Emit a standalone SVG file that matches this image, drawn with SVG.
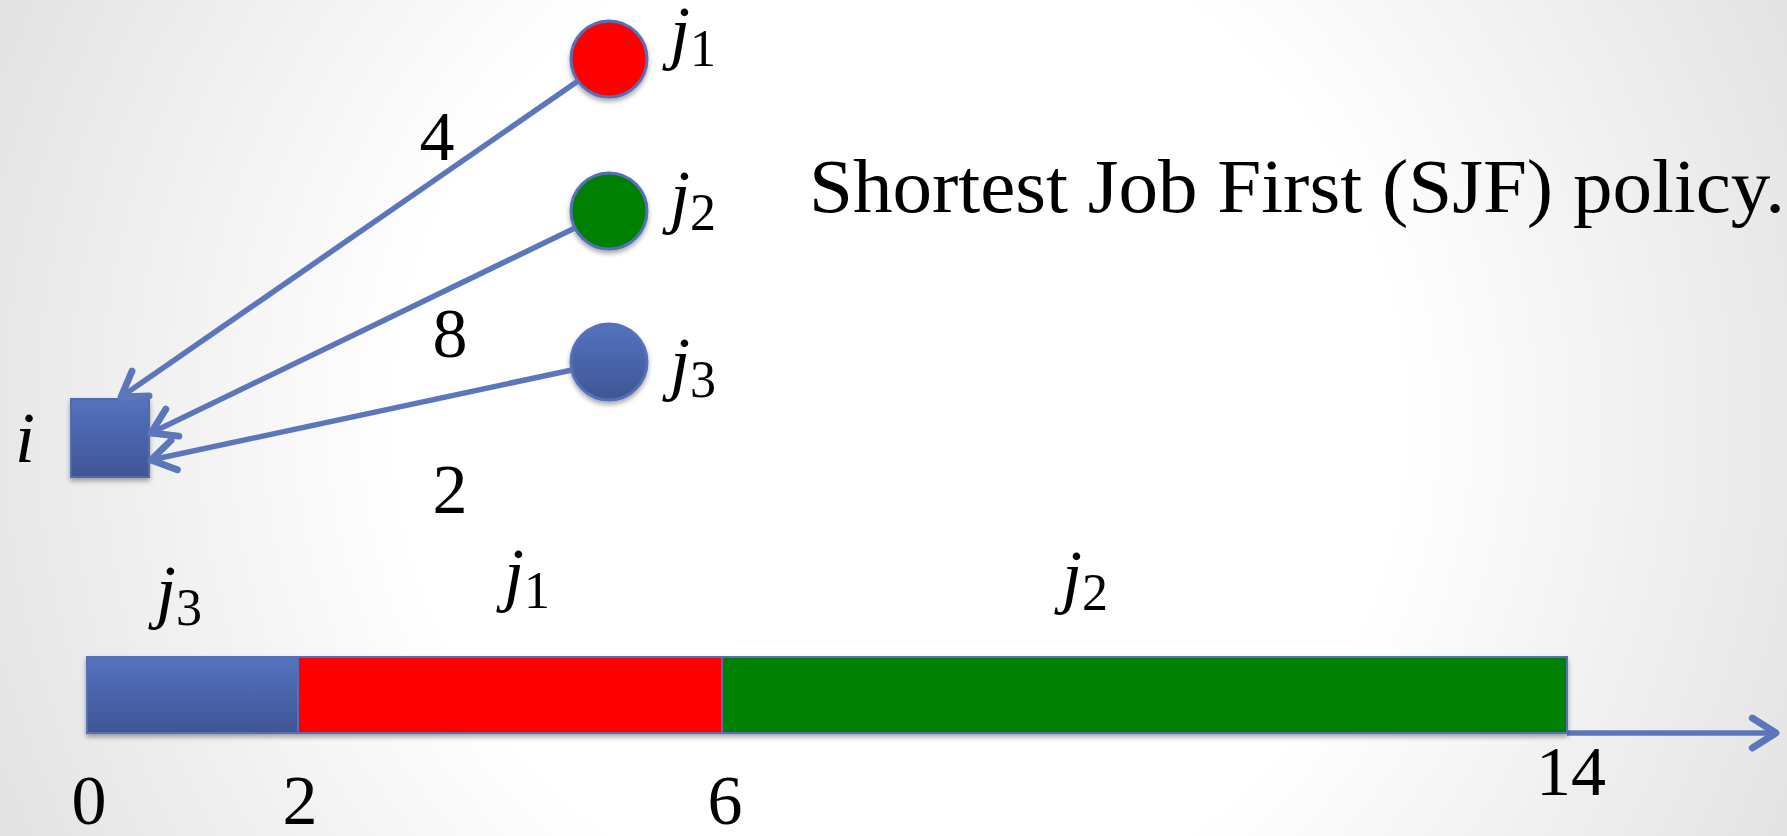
<svg xmlns="http://www.w3.org/2000/svg" width="1787" height="836" viewBox="0 0 1787 836">
<defs>
  <radialGradient id="bg" cx="900" cy="420" r="1000" gradientUnits="userSpaceOnUse">
    <stop offset="0" stop-color="#ffffff"/>
    <stop offset="0.5" stop-color="#ffffff"/>
    <stop offset="1" stop-color="#e2e2e2"/>
  </radialGradient>
  <linearGradient id="blueFill" x1="0" y1="0" x2="0" y2="1">
    <stop offset="0" stop-color="#5472c0"/>
    <stop offset="1" stop-color="#3f5694"/>
  </linearGradient>
  <filter id="shadow" x="-10%" y="-10%" width="130%" height="140%">
    <feDropShadow dx="0" dy="3" stdDeviation="2.5" flood-color="#000" flood-opacity="0.35"/>
  </filter>
  <marker id="vhead" markerUnits="userSpaceOnUse" markerWidth="40" markerHeight="40" viewBox="-24 -16 30 32" refX="0" refY="0" orient="auto">
    <path d="M-19,-12 L0,0 L-19,12" fill="none" stroke="#5b76ba" stroke-width="5.5" stroke-linecap="round" stroke-linejoin="round"/>
  </marker>
  <style>
    .edge { stroke: #5b76ba; stroke-width: 5.5; fill: none; marker-end: url(#vhead); }
    .lbl { font-family: "Liberation Serif", "DejaVu Serif", serif; fill: #000; }
    .math { font-family: "Liberation Serif", "DejaVu Serif", serif; font-style: italic; fill: #000; font-size: 72px; }
    .sub { font-style: normal; font-size: 52px; }
    .num { font-family: "Liberation Serif", "DejaVu Serif", serif; font-size: 70px; fill: #000; text-anchor: middle; }
    .nodeStroke { stroke: #5470b8; stroke-width: 3; }
  </style>
</defs>

<rect x="0" y="0" width="1787" height="836" fill="url(#bg)"/>

<g id="node-j1">
  <circle cx="609" cy="59" r="38" fill="#ff0000" class="nodeStroke" filter="url(#shadow)"/>
  <text class="math" x="670" y="56">j<tspan class="sub" dy="10">1</tspan></text>
</g>
<g id="node-j2">
  <circle cx="609" cy="211" r="38" fill="#008000" class="nodeStroke" filter="url(#shadow)"/>
  <text class="math" x="670" y="220">j<tspan class="sub" dy="10">2</tspan></text>
</g>
<g id="node-j3">
  <circle cx="609" cy="362" r="38" fill="url(#blueFill)" class="nodeStroke" filter="url(#shadow)"/>
  <text class="math" x="670" y="387">j<tspan class="sub" dy="10">3</tspan></text>
</g>
<g id="node-i">
  <rect x="71" y="399" width="78" height="78" fill="url(#blueFill)" stroke="#4f6bb2" stroke-width="2" filter="url(#shadow)"/>
  <text class="math" x="15" y="462">i</text>
</g>

<g id="connectors">
  <line class="edge" x1="578" y1="81" x2="121" y2="397"/>
  <line class="edge" x1="575" y1="228" x2="151" y2="433"/>
  <line class="edge" x1="572" y1="370" x2="151" y2="460"/>
  <line id="timeline-axis" class="edge" x1="1567" y1="733" x2="1776" y2="733"/>
</g>

<g id="edge-labels">
  <text class="num" x="437" y="160">4</text>
  <text class="num" x="450" y="357">8</text>
  <text class="num" x="450" y="513">2</text>
</g>

<g id="title">
  <text class="lbl" x="809" y="212" font-size="76" textLength="976" lengthAdjust="spacingAndGlyphs">Shortest Job First (SJF) policy.</text>
</g>

<g id="timeline" filter="url(#shadow)">
  <g id="bar-j3">
    <rect x="87" y="657" width="211" height="76" fill="url(#blueFill)" stroke="#5470b8" stroke-width="2"/>
  </g>
  <g id="bar-j1">
    <rect x="298" y="657" width="424" height="76" fill="#ff0000" stroke="#5470b8" stroke-width="2"/>
  </g>
  <g id="bar-j2">
    <rect x="722" y="657" width="845" height="76" fill="#008000" stroke="#5470b8" stroke-width="2"/>
  </g>
</g>

<g id="timeline-labels">
  <text class="math" x="156" y="615">j<tspan class="sub" dy="10">3</tspan></text>
  <text class="math" x="504" y="598">j<tspan class="sub" dy="10">1</tspan></text>
  <text class="math" x="1062" y="600">j<tspan class="sub" dy="10">2</tspan></text>
  <text class="num" x="89" y="824">0</text>
  <text class="num" x="300" y="824">2</text>
  <text class="num" x="725" y="824">6</text>
  <text class="num" x="1571" y="795">14</text>
</g>
</svg>
